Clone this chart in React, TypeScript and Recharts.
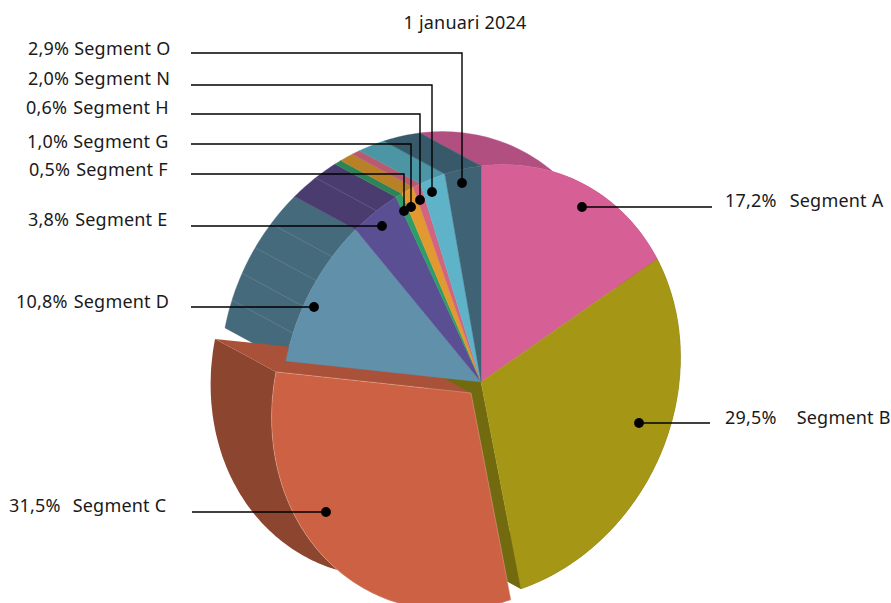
import { PieChart, Pie } from "recharts";

const SEGMENTS = ["Segment A", "Segment B", "Segment C", "Segment D", "Segment E", "Segment F", "Segment G", "Segment H", "Segment N", "Segment O"];
const VALUES = [17.2, 29.5, 31.5, 10.8, 3.8, 0.5, 1.0, 0.6, 2.0, 2.9];
const TOP_COLORS = ["#d65f95", "#a59616", "#cc6144", "#6090aa", "#5b4f93", "#2e9d68", "#e29a30", "#d2647f", "#5fb3c8", "#3f6375"];
const WALL_COLORS = ["#b04f80", "#726a0e", "#8c452e", "#456a7c", "#4b3c70", "#2d8458", "#b88027", "#b85a70", "#4c95a5", "#38596a"];
const TITLE = "1 januari 2024";

// gap in px between the percentage and the name, as in the original labels
const LABEL_GAPS = [13, 20, 12, 6, 6, 6, 5, 6, 5, 5];
// text start, baseline, leader elbow path and dot for each label
const LABEL_X = [725, 725, 9, 16, 28, 29, 27, 26, 28, 28];
const LABEL_Y = [207, 424, 512, 308, 226, 176, 148, 114, 85, 55];
const LEADERS = [
  "M712 207H582",
  "M710 423H639",
  "M192 512H326",
  "M191 307H314",
  "M191 226H382",
  "M191 174H404V211",
  "M191 144H411V207",
  "M191 114H420V200",
  "M191 85H432V192",
  "M191 53H462V183",
];
const DOTS = [[582, 207], [639, 423], [326, 512], [314, 307], [382, 226], [404, 211], [411, 207], [420, 200], [432, 192], [462, 183]];
// only these walls show facet lines
const SEAMED = [3, 4];

const WIDTH = 891;
const HEIGHT = 603;
const CX = 481;
const CY = 382;
const RADIUS = 216;
const EXPLODED = 2;
const EXPLODE_X = -10;
const EXPLODE_Y = 11;
const DEPTH_X = -61;
const DEPTH_Y = -33;
const FONT = "'Noto Sans', sans-serif";

const data = SEGMENTS.map((name, i) => ({ name, value: VALUES[i] }));

// the pie is tilted in 3d, so a circle point lands on a slanted ellipse
function project(cx: number, cy: number, r: number, deg: number) {
  const t = (deg * Math.PI) / 180;
  return [cx + 0.923 * r * Math.cos(t), cy - r * (0.114 * Math.cos(t) + Math.sin(t))];
}

function toPath(points: number[][]) {
  return "M" + points.map((p) => p[0].toFixed(1) + " " + p[1].toFixed(1)).join("L") + "Z";
}

function arcPoints(p: any) {
  const pts: number[][] = [];
  const steps = Math.max(2, Math.ceil(Math.abs(p.endAngle - p.startAngle)));
  for (let i = 0; i <= steps; i++) {
    pts.push(project(p.cx, p.cy, p.outerRadius, p.startAngle + ((p.endAngle - p.startAngle) * i) / steps));
  }
  return pts;
}

function bandPath(p: any) {
  const front = arcPoints(p);
  const back = front.slice().reverse().map((q) => [q[0] + DEPTH_X, q[1] + DEPTH_Y]);
  return toPath(front.concat(back));
}

function radialWall(p: any, deg: number) {
  const a = project(p.cx, p.cy, p.outerRadius, deg);
  const c = [p.cx, p.cy];
  return toPath([c, a, [a[0] + DEPTH_X, a[1] + DEPTH_Y], [c[0] + DEPTH_X, c[1] + DEPTH_Y]]);
}

function facePath(p: any) {
  return toPath([[p.cx, p.cy], ...arcPoints(p)]);
}

function seams(p: any) {
  const out = [];
  const dir = p.endAngle < p.startAngle ? -1 : 1;
  for (let a = p.startAngle + dir * 7.4; dir * (p.endAngle - a) > 2; a += dir * 7.4) {
    const q = project(p.cx, p.cy, p.outerRadius, a);
    out.push(
      <line key={a} x1={q[0]} y1={q[1]} x2={q[0] + DEPTH_X} y2={q[1] + DEPTH_Y} stroke="#ffffff" strokeOpacity={0.22} strokeWidth={0.6} />
    );
  }
  return out;
}

function WallShape(props: any, idx?: number) {
  const index = idx ?? props.index;
  if (index === EXPLODED) return <g />;
  const wall = WALL_COLORS[index];
  return (
    <g>
      <path d={bandPath(props)} fill={wall} stroke={wall} strokeWidth={0.4} />
      {SEAMED.includes(index) && seams(props)}
      {index === 1 && <path d={radialWall(props, props.endAngle)} fill={wall} />}
    </g>
  );
}

function FaceShape(props: any, idx?: number) {
  const index = idx ?? props.index;
  const top = TOP_COLORS[index];
  if (index === EXPLODED) {
    return (
      <g transform={`translate(${EXPLODE_X} ${EXPLODE_Y})`}>
        <path d={bandPath(props)} fill={WALL_COLORS[index]} />
        <path d={radialWall(props, props.endAngle)} fill="#aa5239" />
        <path d={facePath(props)} fill={top} stroke="#e3a793" strokeWidth={0.5} />
      </g>
    );
  }
  return <path d={facePath(props)} fill={top} stroke={top} strokeWidth={0.4} />;
}

function renderLabel(props: any) {
  const i = props.index;
  const pct = VALUES[i].toFixed(1).replace(".", ",") + "%";
  return (
    <g key={i}>
      <path d={LEADERS[i]} fill="none" stroke="#000000" strokeWidth={1.4} />
      <circle cx={DOTS[i][0]} cy={DOTS[i][1]} r={4.9} fill="#000000" />
      <text x={LABEL_X[i]} y={LABEL_Y[i]} fontFamily={FONT} fontSize={18} letterSpacing={0.2} fill="#1a1a1a">
        <tspan>{pct}</tspan>
        <tspan dx={LABEL_GAPS[i]}>{SEGMENTS[i]}</tspan>
      </text>
    </g>
  );
}

export default function App() {
  return (
    <div style={{ position: "absolute", left: 0, top: 0, width: WIDTH, height: HEIGHT, overflow: "hidden" }}>
      <PieChart width={WIDTH} height={HEIGHT} margin={{ top: 0, right: 0, bottom: 0, left: 0 }}>
        <Pie
          data={data}
          dataKey="value"
          cx={CX}
          cy={CY}
          outerRadius={RADIUS}
          startAngle={90}
          endAngle={-270}
          shape={WallShape}
          stroke="none"
          isAnimationActive={false}
        />
        <Pie
          data={data}
          dataKey="value"
          cx={CX}
          cy={CY}
          outerRadius={RADIUS}
          startAngle={90}
          endAngle={-270}
          shape={FaceShape}
          stroke="none"
          label={renderLabel}
          labelLine={false}
          isAnimationActive={false}
        />
        <text x={465} y={29} textAnchor="middle" fontFamily={FONT} fontSize={18} letterSpacing={0.2} fill="#1a1a1a">
          {TITLE}
        </text>
      </PieChart>
    </div>
  );
}
